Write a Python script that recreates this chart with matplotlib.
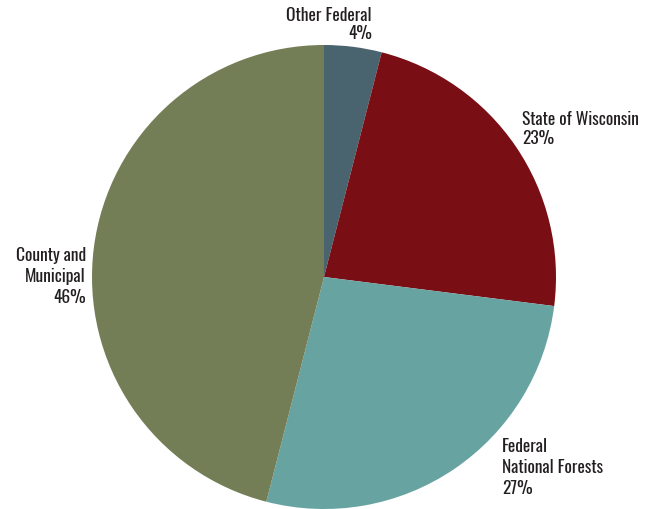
import matplotlib.pyplot as plt

labels = ['Other Federal', 'State of Wisconsin', 'Federal\nNational Forests', 'County and\nMunicipal']
shares = [4, 23, 27, 46]
colors = ['#4a646f', '#790f15', '#67a3a1', '#737d56']

W, H = 651, 510
fig = plt.figure(figsize=(W / 100, H / 100), dpi=100)
ax = fig.add_axes([92 / W, 0, 464 / W, 464 / H])
ax.pie(shares, colors=colors, startangle=90, counterclock=False, radius=1,
       wedgeprops=dict(linewidth=0))
ax.set_xlim(-1, 1)
ax.set_ylim(-1, 1)
ax.set_aspect('equal')
ax.axis('off')

style = dict(family=['Oswald', 'Antonio', 'Roboto Condensed', 'DejaVu Sans'],
             fontsize=12.5, fontweight='medium', color='#231f20', va='top')

# label anchors in pixels: (x, y_top, alignment, line spacing)
spots = [(372, 7, 'right', 1.1), (522, 111, 'left', 1.15),
         (502, 438, 'left', 1.3), (86, 247, 'right', 1.3)]
for lab, val, (px, py, ha, ls) in zip(labels, shares, spots):
    fig.text(px / W, 1 - py / H, f'{lab}\n{val}%', ha=ha, multialignment=ha,
             linespacing=ls, **style)

fig.savefig('out.png', dpi=100)
